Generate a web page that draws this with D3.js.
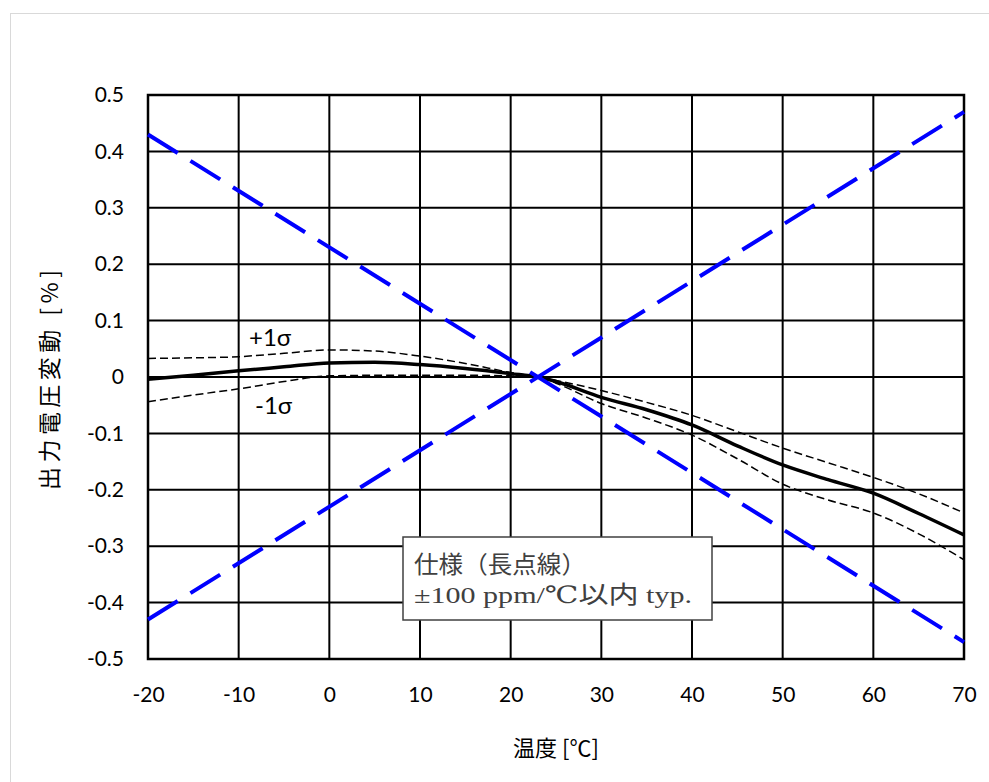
<!DOCTYPE html>
<html><head><meta charset="utf-8">
<script src="https://cdn.jsdelivr.net/npm/d3@7"></script>
<style>body{margin:0;background:#fff}svg{display:block}</style>
</head><body>
<svg id="c" width="989" height="782"></svg>
<script>
const xTicks = [-20,-10,0,10,20,30,40,50,60,70];
const yTicks = [0.5,0.4,0.3,0.2,0.1,0,-0.1,-0.2,-0.3,-0.4,-0.5];
const temps  = [-20,-15,-10,-5,0,5,10,15,20,23,25,30,35,40,45,50,55,60,65,70];
const meanV  = [-0.004,0.003,0.011,0.018,0.025,0.026,0.022,0.015,0.006,0,-0.008,-0.036,-0.058,-0.085,-0.122,-0.156,-0.182,-0.206,-0.242,-0.28];
const plusV  = [0.033,0.034,0.036,0.042,0.048,0.046,0.037,0.024,0.008,0,-0.006,-0.024,-0.045,-0.068,-0.097,-0.126,-0.152,-0.178,-0.207,-0.241];
const minusV = [-0.044,-0.032,-0.021,-0.008,0.002,0.003,0.003,0.003,0.002,0,-0.011,-0.047,-0.073,-0.103,-0.145,-0.19,-0.218,-0.241,-0.278,-0.324];
const specT  = [-20,70];
const specUp = [-0.43,0.47];
const specDn = [0.43,-0.47];
const xTitle = "温度 [℃]";
const yTitle = "出力電圧変動 [%]";
const noteLines = ["仕様（長点線）","±100 ppm/℃以内 typ."];
const noteWidths = [172,278];

const svg = d3.select("#c");
const L=148,R=964,T=95,B=659;
const x = d3.scaleLinear().domain([-20,70]).range([L,R]);
const y = d3.scaleLinear().domain([-0.5,0.5]).range([B,T]);
const sans = "Lato, 'Noto Sans CJK JP', sans-serif";
const fmtY = d => d===0 ? "0" : d3.format(".1f")(d).replace("−","-");
const fmtX = d => String(d);

svg.append("rect").attr("x",10.5).attr("y",13.5).attr("width",1000).attr("height",1000)
  .attr("fill","none").attr("stroke","#d9d9d9").attr("stroke-width",1);

// grid
const g = svg.append("g");
g.selectAll(".vx").data(xTicks).join("line")
  .attr("x1",d=>x(d)).attr("x2",d=>x(d)).attr("y1",T).attr("y2",B)
  .attr("stroke","#000").attr("stroke-width",2);
g.selectAll(".hy").data(yTicks).join("line")
  .attr("y1",d=>y(d)).attr("y2",d=>y(d)).attr("x1",L).attr("x2",R)
  .attr("stroke","#000").attr("stroke-width",2);
g.append("rect").attr("x",L).attr("y",T).attr("width",R-L).attr("height",B-T)
  .attr("fill","none").attr("stroke","#000").attr("stroke-width",2.5);

// axes labels via d3 axes
const xa = svg.append("g").attr("transform",`translate(0,${B})`)
  .call(d3.axisBottom(x).tickValues(xTicks).tickSize(0).tickPadding(28).tickFormat(fmtX));
xa.select(".domain").remove();
xa.selectAll("text").attr("font-family",sans).attr("font-size",21).attr("fill","#000");
const ya = svg.append("g").attr("transform",`translate(${L},0)`)
  .call(d3.axisLeft(y).tickValues(yTicks).tickSize(0).tickPadding(24).tickFormat(fmtY));
ya.select(".domain").remove();
ya.selectAll("text").attr("font-family",sans).attr("font-size",21).attr("fill","#000");

// note box
const nb = svg.append("g");
nb.append("rect").attr("x",403).attr("y",537).attr("width",309).attr("height",83)
  .attr("fill","#fff").attr("stroke","#404040").attr("stroke-width",1.5);
nb.selectAll("text").data(noteLines).join("text")
  .attr("x",414).attr("y",(d,i)=>573+i*30)
  .attr("textLength",(d,i)=>noteWidths[i]).attr("lengthAdjust","spacingAndGlyphs")
  .attr("font-family","'Liberation Serif','DejaVu Serif','Noto Sans CJK JP',serif")
  .attr("font-size",24).attr("fill","#404040").text(d=>d);

const line = d3.line().x(d=>x(d[0])).y(d=>y(d[1])).curve(d3.curveMonotoneX);
const specLine = d3.line().x(d=>x(d[0])).y(d=>y(d[1]));
const pg = svg.append("g");
pg.append("path").attr("d",line(temps.map((t,i)=>[t,plusV[i]])))
  .attr("fill","none").attr("stroke","#000").attr("stroke-width",1.5).attr("stroke-dasharray","8,4");
pg.append("path").attr("d",line(temps.map((t,i)=>[t,minusV[i]])))
  .attr("fill","none").attr("stroke","#000").attr("stroke-width",1.5).attr("stroke-dasharray","8,4");
pg.append("path").attr("d",line(temps.map((t,i)=>[t,meanV[i]])))
  .attr("fill","none").attr("stroke","#000").attr("stroke-width",3.5);
[specUp,specDn].forEach(s=>{
  pg.append("path").attr("d",specLine(specT.map((t,i)=>[t,s[i]])))
    .attr("fill","none").attr("stroke","#0000ff").attr("stroke-width",4).attr("stroke-dasharray","35,15");
});

svg.append("text").attr("x",249).attr("y",346).attr("font-family",sans).attr("font-size",24).text("+1σ");
svg.append("text").attr("x",255).attr("y",414).attr("font-family",sans).attr("font-size",24).text("-1σ");

svg.append("text").attr("x",556).attr("y",756).attr("text-anchor","middle")
  .attr("font-family","'Noto Sans CJK JP', sans-serif").attr("font-size",22).text(xTitle);
svg.append("text").attr("transform","translate(58,380) rotate(-90)").attr("text-anchor","middle")
  .attr("textLength",220).attr("lengthAdjust","spacing")
  .attr("font-family","'Noto Sans CJK JP', sans-serif").attr("font-size",23).text(yTitle);
</script>
</body></html>
